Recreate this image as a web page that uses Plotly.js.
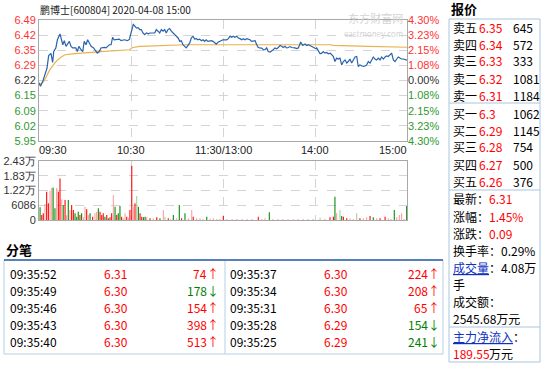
<!DOCTYPE html>
<html><head><meta charset="utf-8">
<script src="https://cdn.plot.ly/plotly-3.0.1.min.js"></script>
<style>html,body{margin:0;padding:0;background:#fff;}#chart{width:548px;height:370px;}</style>
</head><body><div id="chart"></div>
<script>
const stockTitle = "鹏博士[600804] 2020-04-08 15:00";
const prevClose = 6.22;
const maxPct = 4.30;

const priceMinute = [0,1,2.4,3.5,5.2,6.3,7.8,8.9,9.6,11,12,13.7,14.3,15.5,16.5,17.6,19.8,20.9,22,24,25,26,27.4,28.5,29.5,30.7,31.7,32.8,34,35.6,37,38,39.3,40.4,42.6,43.7,44.8,45.9,47,48,49,50,52.4,53.5,55.6,57.8,59,60,60.7,61.5,62,63.5,64.8,65.7,66.7,67.8,68.9,70,71.3,72.4,75.5,76.5,77.6,78.7,79.8,80.9,82,83,84.1,85.2,86.3,87.4,88.5,90.7,91.8,92.8,93.9,95,96,96.7,98.3,99.3,100.4,101.5,102.6,103.7,104.8,105.9,107,108,109,110.2,112.4,113.5,115.6,116.7,117.9,119,120,122.4,123.5,124.6,125.7,126.7,127.8,128.9,130,131.1,132.2,133.3,134.3,135.5,137.6,138.7,139.8,140.9,142,143,144.1,145.2,146.3,147.4,148.5,149.5,150.7,151.8,152.8,153.9,155,156.1,157.2,158.3,159.3,160.4,161.5,162.6,163.7,164.8,165.9,167,168,169.1,170.2,170.6,172,173.5,174.6,175.6,176.7,177.8,178.9,180.7,181.1,182.2,183.3,184.4,185.4,186.5,187.6,188.7,189.8,190.9,192,193,194.1,195.2,196.3,197.4,198.5,199.6,200.7,201.7,202.8,203.9,205,206.1,207.2,208.2,209.3,210.4,211.5,212.6,213.7,214.8,215.9,217,218,219.1,220.2,221.3,222.4,223.5,224.6,225.7,226.7,227.8,228.9,230,231.1,232.2,233.3,234.3,235.4,236.5,237.6,238.7,240];
const priceValue = [6.21,6.195,6.215,6.24,6.274,6.33,6.34,6.30,6.348,6.364,6.40,6.426,6.408,6.378,6.396,6.371,6.393,6.371,6.364,6.364,6.348,6.371,6.356,6.348,6.393,6.378,6.40,6.385,6.371,6.364,6.348,6.341,6.348,6.364,6.366,6.364,6.371,6.378,6.378,6.411,6.40,6.40,6.403,6.396,6.40,6.396,6.403,6.43,6.453,6.468,6.465,6.453,6.453,6.445,6.445,6.43,6.423,6.43,6.426,6.43,6.43,6.445,6.438,6.43,6.445,6.438,6.445,6.43,6.445,6.45,6.438,6.43,6.42,6.408,6.393,6.396,6.378,6.371,6.364,6.371,6.386,6.408,6.416,6.403,6.405,6.40,6.403,6.396,6.40,6.393,6.40,6.393,6.396,6.393,6.381,6.389,6.393,6.40,6.40,6.40,6.405,6.416,6.411,6.416,6.411,6.416,6.408,6.405,6.40,6.405,6.40,6.405,6.40,6.393,6.393,6.396,6.378,6.366,6.364,6.363,6.356,6.356,6.364,6.348,6.346,6.35,6.356,6.364,6.36,6.366,6.375,6.371,6.366,6.371,6.364,6.366,6.37,6.366,6.366,6.364,6.361,6.364,6.381,6.39,6.375,6.381,6.375,6.378,6.375,6.371,6.364,6.36,6.364,6.348,6.338,6.341,6.348,6.341,6.344,6.338,6.341,6.334,6.326,6.304,6.319,6.315,6.319,6.289,6.304,6.311,6.297,6.304,6.315,6.297,6.311,6.324,6.326,6.282,6.289,6.284,6.282,6.284,6.289,6.304,6.297,6.311,6.324,6.315,6.311,6.319,6.311,6.324,6.315,6.324,6.329,6.326,6.334,6.341,6.311,6.304,6.315,6.324,6.319,6.315,6.315,6.311,6.31];

const avgMinute = [0,3,5,7,10,12,15,17,22,27,40,59,61,66,83,96,190,192,215,240];
const avgValue = [6.20,6.215,6.24,6.267,6.295,6.31,6.326,6.334,6.338,6.341,6.348,6.356,6.366,6.371,6.375,6.378,6.378,6.375,6.371,6.367];

const volMinute = [0.7,1.8,2.8,3.9,5.0,6.1,7.2,8.3,9.2,10.4,11.5,12.6,13.7,14.8,15.8,17.0,18.0,19.1,20.2,21.3,22.4,23.5,24.6,25.6,26.7,27.8,28.9,30.0,31.1,32.2,33.3,35.0,36.5,37.6,38.7,39.8,40.9,41.9,43.0,44.2,45.2,46.3,47.4,48.5,49.6,50.7,51.7,52.8,53.9,55.0,56.1,57.2,58.3,59.3,60.5,61.5,62.6,63.7,64.8,65.9,67.0,68.1,69.2,70.2,72.4,74.5,76.8,78.9,81.1,82.2,84.3,86.0,87.6,89.8,91.5,93.0,95.2,97.4,99.6,100.6,102.8,105.0,107.0,109.4,111.5,113.7,116.0,118.0,120.2,122.6,125.9,129.0,132.4,135.7,139.0,143.0,145.4,147.4,150.2,152.6,155.9,159.1,162.4,165.7,168.9,172.2,175.4,178.7,183.3,186.5,189.8,192.0,193.0,194.1,196.3,197.4,198.5,200.7,202.8,205.0,207.2,209.3,211.5,213.7,215.9,218.0,220.2,222.4,225.7,227.8,229.5,231.7,233.3,235.0,236.5,238.0,239.8];
const volValue = [5230,2060,2750,6590,11700,6870,12100,13050,13460,4800,13180,11670,17170,8510,6180,8240,2000,8240,4120,6180,4120,2750,1370,3430,2060,2750,1100,5490,4390,2060,2750,1370,2750,3430,4800,3430,2060,2750,1370,2060,690,1100,2750,10300,5490,2060,2750,5770,1370,690,2750,1370,900,4120,22380,5490,6870,9890,5490,2750,1370,1100,1370,1100,690,690,1100,690,4120,1370,690,400,2060,690,6180,690,2750,690,4120,1370,690,690,400,1370,500,690,400,400,1650,400,400,400,400,400,400,1370,400,690,3160,400,400,400,400,400,400,400,400,400,960,400,1100,1370,9600,2750,4120,1650,1370,690,690,400,2750,690,690,1100,1650,1100,690,690,1370,690,400,4120,1100,2060,2750,500,5770];
const volKind = ["g","r","r","p","r","r","p","p","g","g","p","r","r","p","g","r","p","g","p","r","r","g","g","g","r","g","p","p","r","p","g","r","p","p","g","r","r","r","g","r","g","r","r","p","g","r","g","g","r","p","p","r","p","r","r","p","r","l","g","r","r","g","g","p","r","p","r","g","p","l","r","p","g","p","g","r","g","p","p","r","p","p","p","g","p","p","p","p","r","p","p","p","p","p","p","r","p","p","g","p","p","p","p","p","p","p","p","p","l","p","r","r","g","p","l","g","r","r","p","p","l","r","p","p","r","g","p","r","r","p","p","g","p","p","p","p","g"];

const priceTickLabels = ["5.95","6.02","6.09","6.15","6.22","6.29","6.35","6.42","6.49"];
const pctTickLabels = ["4.30%","3.23%","2.15%","1.08%","0.00%","1.08%","2.15%","3.23%","4.30%"];
const volTickValues = [0,6086,12172,18258,24344];
const volTickLabels = ["0","6086","1.22万","1.83万","2.43万"];
const timeLabelMinute = [0,60,120,180,240];
const timeLabels = ["09:30","10:30","11:30/13:00","14:00","15:00"];

const askNames = ["卖五","卖四","卖三","卖二","卖一"];
const askPrices = ["6.35","6.34","6.33","6.32","6.31"];
const askVols = ["645","572","333","1081","1184"];
const bidNames = ["买一","买二","买三","买四","买五"];
const bidPrices = ["6.3","6.29","6.28","6.27","6.26"];
const bidVols = ["1062","1145","754","500","376"];

const tradeTimeL = ["09:35:52","09:35:49","09:35:46","09:35:43","09:35:40"];
const tradePriceL = ["6.31","6.30","6.30","6.30","6.30"];
const tradeVolL = ["74","178","154","398","513"];
const tradeDirL = ["up","down","up","up","up"];
const tradeTimeR = ["09:35:37","09:35:34","09:35:31","09:35:28","09:35:25"];
const tradePriceR = ["6.30","6.30","6.30","6.29","6.29"];
const tradeVolR = ["224","208","65","154","241"];
const tradeDirR = ["up","up","up","down","down"];

// ---------- build ----------
const W = 548, H = 370;
const X0 = 39, X1 = 407;
const RED = "#ff0000", GRN = "#008000", LINK = "#1030c0";
const CJK = "Noto Sans CJK SC, sans-serif";
const AX = "Liberation Sans, Arial, sans-serif";
const px = x => x / W, py = y => 1 - y / H;

const step = prevClose * maxPct / 100 / 4;
const priceTicks = [-4,-3,-2,-1,0,1,2,3,4].map(k => prevClose + k * step);
const pRange = [prevClose - 4 * step, prevClose + 4 * step];
const tickColor = i => i > 4 ? "#ff3333" : (i < 4 ? "#2f9a2f" : "#333333");
const colText = (arr) => arr.map((t, i) => '<span style="color:' + tickColor(i) + '">' + t + '</span>');

const volColors = {r: "#ff0000", p: "#ff9c9c", g: "#008a00", l: "#9fd09f"};

const traces = [
  {x: avgMinute, y: avgValue, type: "scatter", mode: "lines", xaxis: "x", yaxis: "y",
   line: {color: "#e8b24c", width: 1.2}, hoverinfo: "skip"},
  {x: priceMinute, y: priceValue, type: "scatter", mode: "lines", xaxis: "x", yaxis: "y",
   line: {color: "#2a62ae", width: 1.2}, hoverinfo: "skip"},
  {x: volMinute, y: volValue, type: "bar", xaxis: "x2", yaxis: "y2", width: 0.7,
   marker: {color: volKind.map(k => volColors[k]), line: {width: 0}}, hoverinfo: "skip"},
  {x: [0], y: [prevClose], type: "scatter", mode: "markers", xaxis: "x", yaxis: "y3",
   marker: {opacity: 0}, hoverinfo: "skip"}
];

const gridStyle = {showgrid: true, gridcolor: "#d4d4d4", griddash: "dash", gridwidth: 1};
const frame = {showline: true, mirror: true, linecolor: "#a8a8a8", linewidth: 1, zeroline: false, ticks: ""};

const layout = {
  width: W, height: H, margin: {l: 0, r: 0, t: 0, b: 0},
  paper_bgcolor: "#fff", plot_bgcolor: "#fff", showlegend: false, hovermode: false,
  xaxis: Object.assign({domain: [px(X0), px(X1)], range: [0, 240], anchor: "y",
    tickvals: [60, 120, 180], showticklabels: false}, gridStyle, frame),
  yaxis: Object.assign({domain: [py(141), py(20)], range: pRange, anchor: "x",
    tickvals: priceTicks, ticktext: colText(priceTickLabels),
    tickfont: {family: AX, size: 11}}, gridStyle, frame),
  yaxis3: {overlaying: "y", side: "right", anchor: "x", range: pRange, tickvals: priceTicks,
    ticktext: colText(pctTickLabels), tickfont: {family: AX, size: 11},
    showgrid: false, zeroline: false, showline: false, ticks: ""},
  xaxis2: Object.assign({domain: [px(X0), px(X1)], range: [0, 240], anchor: "y2",
    tickvals: [60, 120, 180], showticklabels: false}, gridStyle, frame),
  yaxis2: Object.assign({domain: [py(220), py(161)], range: [0, volTickValues[4]], anchor: "x2",
    tickvals: volTickValues, ticktext: volTickLabels,
    tickfont: {family: AX, size: 11, color: "#333"}}, gridStyle, frame),
  annotations: [], shapes: []
};

const A = layout.annotations, S = layout.shapes;
function txt(x, y, text, o) {
  o = o || {};
  A.push({xref: "paper", yref: "paper", x: px(x), y: py(y), text: text, showarrow: false,
    xanchor: o.xa || "left", yanchor: "middle", borderpad: 0, align: o.al || "left",
    font: {family: o.f || CJK, size: o.s || 12, color: o.c || "#000"}});
}
function line(x0, y0, x1, y1, c, w) {
  S.push({type: "line", xref: "paper", yref: "paper", x0: px(x0), y0: py(y0), x1: px(x1), y1: py(y1),
    line: {color: c, width: w || 1}});
}

// title & watermark
txt(39, 10, stockTitle, {s: 10, c: "#222"});
txt(404, 24, '东方财富网<br><span style="font-size:8px">eastmoney.com</span>', {xa: "right", al: "right", s: 11, c: "#d4d4d4"});

// time labels
const tx = m => X0 + (X1 - X0) * m / 240;
timeLabels.forEach((t, i) => {
  const last = timeLabels.length - 1;
  const xa = i === 0 ? "left" : (i === last ? "right" : "center");
  const xx = tx(timeLabelMinute[i]) + (i === 0 ? -1 : (i === last ? 1 : 0));
  txt(xx, 150, t, {xa: xa, f: AX, s: 11, c: "#222"});
});

// quote panel
txt(450, 9, "<b>报价</b>", {s: 13});
S.push({type: "rect", xref: "paper", yref: "paper", x0: px(449), y0: py(362), x1: px(540), y1: py(19),
  line: {color: "#a9c6e0", width: 1}});
line(449, 103, 540, 103, "#a9c6e0");
line(449, 190, 540, 190, "#a9c6e0");
line(449, 327, 540, 327, "#a9c6e0");
askNames.forEach((n, i) => {
  const y = 27 + i * 17;
  txt(452, y, n); txt(478, y, askPrices[i], {c: RED}); txt(512, y, askVols[i]);
});
bidNames.forEach((n, i) => {
  const y = 113 + i * 17;
  txt(452, y, n); txt(478, y, bidPrices[i], {c: RED}); txt(512, y, bidVols[i]);
});
txt(452, 199, '最新：'); txt(488, 199, '6.31', {c: RED});
txt(452, 216, '涨幅：'); txt(488, 216, '1.45%', {c: RED});
txt(452, 233, '涨跌：'); txt(488, 233, '0.09', {c: RED});
txt(452, 250, '换手率：0.29%');
txt(452, 267, '<span style="text-decoration:underline">成交量</span>', {c: LINK}); txt(488, 267, '：4.08万');
txt(452, 284, '手');
txt(452, 301, '成交额：');
txt(452, 318, '2545.68万元');
txt(452, 336, '<span style="text-decoration:underline">主力净流入</span>', {c: LINK}); txt(512, 336, '：');
txt(452, 353, '189.55', {c: RED}); txt(488, 353, '万元');

// trades
txt(5, 249, "<b>分笔</b>", {s: 13});
S.push({type: "rect", xref: "paper", yref: "paper", x0: px(4), y0: py(354), x1: px(443), y1: py(260),
  line: {color: "#b5d0e6", width: 1}});
line(4, 260, 443, 260, "#2c5ea8", 1.5);
line(225, 261, 225, 354, "#b5d0e6");
function tradeRows(times, prices, vols, dirs, xt, xp, xv, xarr) {
  times.forEach((t, i) => {
    const y = 273 + i * 17;
    const c = dirs[i] === "up" ? RED : GRN;
    txt(xt, y, t);
    txt(xp, y, prices[i], {c: RED});
    txt(xv, y, vols[i], {xa: "right", c: c});
    txt(xarr, y, dirs[i] === "up" ? "↑" : "↓", {xa: "center", c: c});
  });
}
tradeRows(tradeTimeL, tradePriceL, tradeVolL, tradeDirL, 9, 103, 208, 213);
tradeRows(tradeTimeR, tradePriceR, tradeVolR, tradeDirR, 229, 323, 429, 434);

Plotly.newPlot("chart", traces, layout, {displayModeBar: false, staticPlot: true});
</script></body></html>
